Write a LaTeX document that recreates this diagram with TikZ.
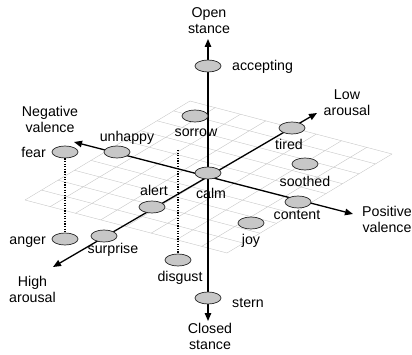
\documentclass[tikz,border=0pt]{standalone}
\usepackage{fontspec}
\setmainfont{Liberation Sans}
\usetikzlibrary{arrows.meta,shapes.geometric,calc}

\begin{document}
\begin{tikzpicture}[x=1pt,y=-1pt,
    font=\fontsize{14.2}{16}\selectfont,
    mood/.style={ellipse,draw=black!85,line width=0.7pt,fill=black!22,
      minimum width=26pt,minimum height=12pt,inner sep=0pt},
    word/.style={anchor=base,inner sep=0pt,align=center},
    axis/.style={line width=1.3pt,{Triangle[length=8pt,width=6.5pt]}-{Triangle[length=8pt,width=6.5pt]}},
    link/.style={line width=1.3pt,dash pattern=on 1.3pt off 1.3pt},
    floor/.style={black!22,line width=0.4pt}]
  \useasboundingbox (0,0) rectangle (412,355);
  % floor grid
  \coordinate (gl) at (25,200);
  \coordinate (gb) at (227,253);
  \coordinate (gr) at (392,154);
  \coordinate (gt) at (190,101);
  \foreach \i in {0,...,8}
    \draw[floor] ($(gl)!\i/8!(gb)$) -- ($(gt)!\i/8!(gr)$);
  \foreach \j in {0,...,10}
    \draw[floor] ($(gl)!\j/10!(gt)$) -- ($(gb)!\j/10!(gr)$);
  % axes
  \coordinate (open) at (208,39);
  \coordinate (closed) at (208,321);
  \coordinate (neg) at (74,142);
  \coordinate (pos) at (353,214);
  \coordinate (high) at (53,267);
  \coordinate (low) at (317,113);
  \draw[axis] (closed) -- (open);
  \draw[axis] (neg) -- (pos);
  \draw[axis] (high) -- (low);
  % emotions
  \node[mood] (accepting) at (208,66) {};
  \node[mood] (sorrow) at (195,116) {};
  \node[mood] (tired) at (292,128) {};
  \node[mood] (soothed) at (305,164) {};
  \node[mood] (content) at (298,202) {};
  \node[mood] (joy) at (251,223) {};
  \node[mood] (calm) at (208,173) {};
  \node[mood] (alert) at (152,207) {};
  \node[mood] (surprise) at (104,236) {};
  \node[mood] (unhappy) at (117,152) {};
  \node[mood] (fear) at (65,152) {};
  \node[mood] (anger) at (65,239) {};
  \node[mood] (disgust) at (178,260) {};
  \node[mood] (stern) at (208,298) {};
  \coordinate (dtop) at (178,150);
  \draw[link] (fear.south) -- (anger.north);
  \draw[link] (dtop) -- (disgust.north);
  % labels
  \node[word] (open-l) at (209,34) {Open\\stance};
  \node[word] (closed-l) at (210,349.3) {Closed\\stance};
  \node[word] (neg-l) at (50,132.3) {Negative\\valence};
  \node[word] (pos-l) at (387,232.3) {Positive\\valence};
  \node[word] (low-l) at (347,115.7) {Low\\arousal};
  \node[word] (high-l) at (32.5,302.3) {High\\arousal};
  \node[word,anchor=base west] (accepting-l) at (232,70.5) {accepting};
  \node[word] (sorrow-l) at (196,136.5) {sorrow};
  \node[word] (tired-l) at (289,150) {tired};
  \node[word] (soothed-l) at (305,186.5) {soothed};
  \node[word] (content-l) at (297,219.3) {content};
  \node[word] (joy-l) at (251,244) {joy};
  \node[word] (calm-l) at (211,198.5) {calm};
  \node[word] (alert-l) at (154,196) {alert};
  \node[word] (surprise-l) at (113,253.3) {surprise};
  \node[word] (unhappy-l) at (127,141.3) {unhappy};
  \node[word,anchor=base east] (fear-l) at (46,157.3) {fear};
  \node[word,anchor=base east] (anger-l) at (46,244.3) {anger};
  \node[word] (disgust-l) at (180,281.7) {disgust};
  \node[word,anchor=base west] (stern-l) at (232,307.3) {stern};
\end{tikzpicture}
\end{document}
